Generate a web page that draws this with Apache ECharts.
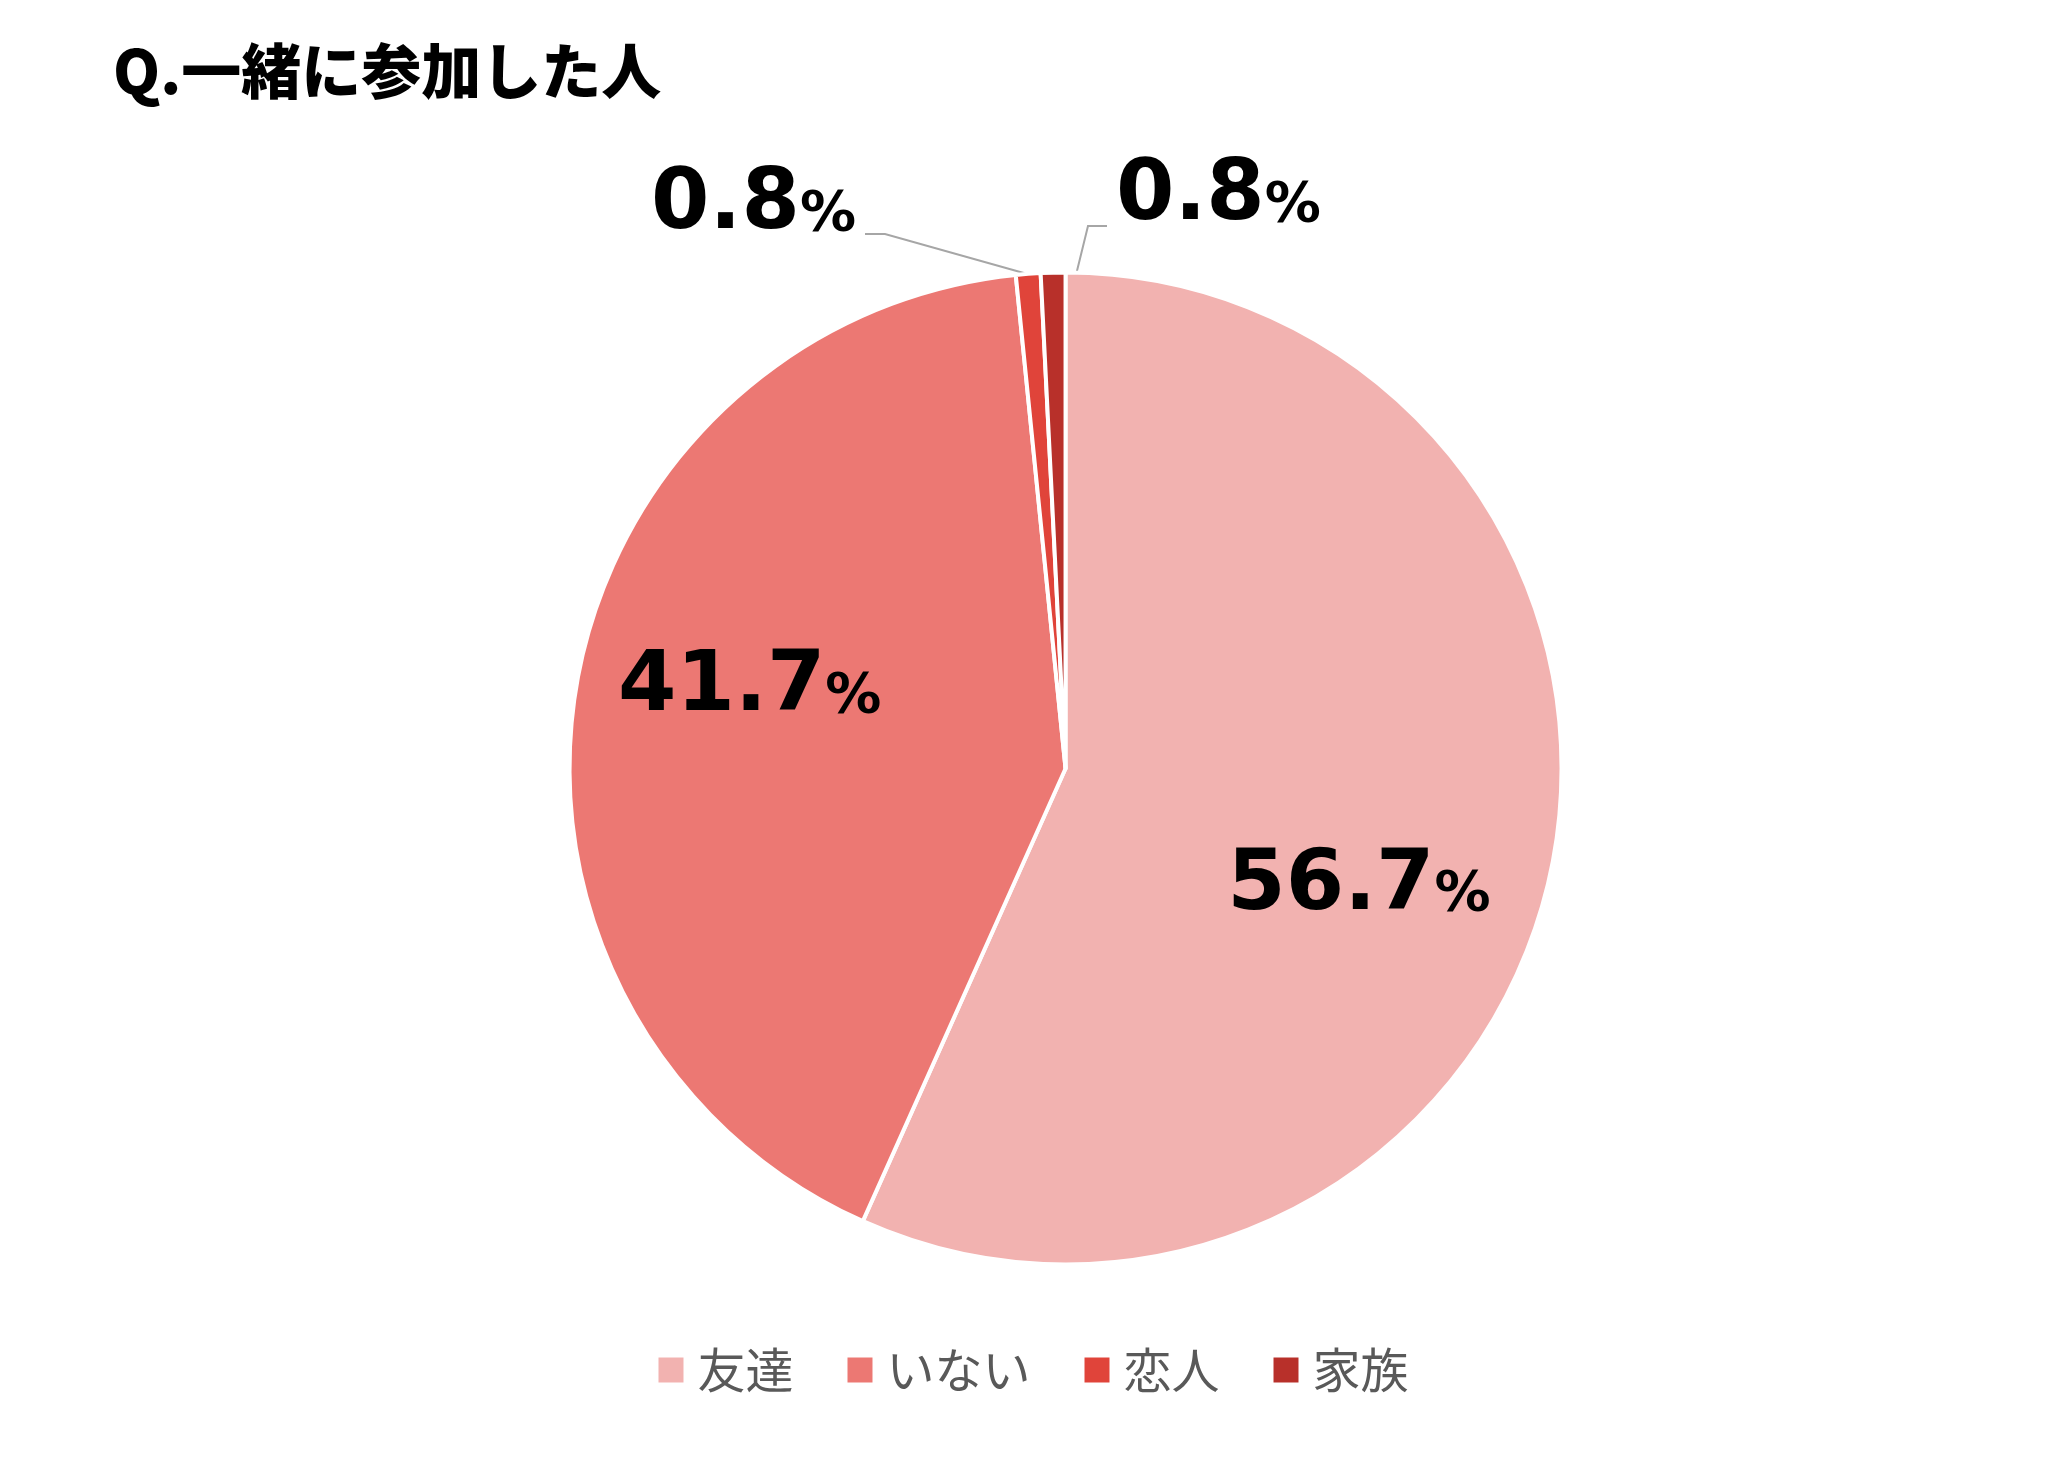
<!DOCTYPE html>
<html lang="ja">
<head>
    <meta charset="utf-8">
    <script type="text/javascript" src="https://cdn.jsdelivr.net/npm/echarts@6/dist/echarts.min.js"></script>
</head>
<body style="height: 100%; margin: 0">
<div id="container" style="width:2065px;height:1475px"></div>

<script type="text/javascript">
    var categories = ['友達', 'いない', '恋人', '家族'];
    var values = [56.7, 41.7, 0.8, 0.8];
    var colors = ['#F2B2B0', '#EC7873', '#E0443A', '#B8302A'];

    var myChart = echarts.init(document.getElementById('container'));

    var rich = {
        n: {fontSize: 84, fontWeight: 'bold', color: '#000', fontFamily: 'DejaVu Sans'},
        p: {fontSize: 56, fontWeight: 'bold', color: '#000', fontFamily: 'DejaVu Sans', padding: [18, 0, 0, 0]}
    };
    var fmt = function (p) { return '{n|' + p.value.toFixed(1) + '}{p|%}'; };

    var data = categories.map(function (name, i) {
        return {
            name: name,
            value: values[i],
            itemStyle: {color: colors[i]},
            label: {show: true, position: i < 2 ? 'inside' : 'outside', formatter: fmt, rich: rich},
            labelLine: {show: i >= 2, length: 20, length2: 25, lineStyle: {color: '#a6a6a6', width: 2}}
        };
    });

    var option = {
        animation: false,
        title: {
            text: 'Q.一緒に参加した人',
            left: 108,
            top: 36,
            textStyle: {fontSize: 60, fontWeight: 900, color: '#000', fontFamily: 'Noto Sans CJK JP'}
        },
        legend: {
            bottom: 76,
            left: 'center',
            itemWidth: 27,
            itemHeight: 27,
            itemGap: 52,
            icon: 'rect',
            textStyle: {fontSize: 48, color: '#595959', fontFamily: 'Noto Sans CJK JP', padding: [0, 0, 0, 8]},
            data: categories
        },
        series: [{
            type: 'pie',
            center: ['51.6%', '52.1%'],
            radius: 496,
            startAngle: 90,
            itemStyle: {borderColor: '#fff', borderWidth: 4},
            labelLayout: function (p) {
                if (p.dataIndex === 0) return {dx: 48, dy: 66};
                if (p.dataIndex === 1) return {dx: -68, dy: -40};
                if (p.dataIndex === 2) return {
                    x: 856, y: 206, align: 'right', verticalAlign: 'middle',
                    labelLinePoints: [[1038, 277], [885, 234], [865, 234]]
                };
                if (p.dataIndex === 3) return {
                    x: 1116, y: 197, align: 'left', verticalAlign: 'middle',
                    labelLinePoints: [[1075, 279], [1088, 226], [1107, 226]]
                };
            },
            data: data
        }]
    };
    myChart.setOption(option);
</script>
</body>
</html>
